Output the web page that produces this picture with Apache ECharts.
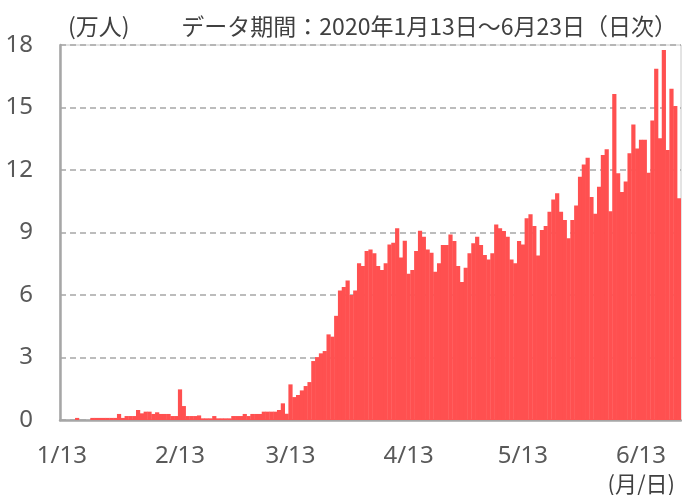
<!DOCTYPE html>
<html>
<head>
<meta charset="utf-8">
<script src="https://cdn.jsdelivr.net/npm/echarts@6/dist/echarts.min.js"></script>
<style>
  html, body { margin: 0; padding: 0; background: #fff; }
  #chart { width: 682px; height: 495px; }
</style>
</head>
<body>
<div id="chart"></div>
<script>
  // 期間：2020/1/13 ～ 2020/6/23（日次）
  const startDate = new Date(2020, 0, 13)
  const endDate = new Date(2020, 5, 23)
  const dates = []
  for (let d = new Date(startDate); d <= endDate; d.setDate(d.getDate() + 1)) {
    dates.push((d.getMonth() + 1) + '/' + d.getDate())
  }

  const tickLabels = ['1/13', '2/13', '3/13', '4/13', '5/13', '6/13']
  const yTicks = [0, 3, 6, 9, 12, 15, 18]

  // 万人
  const values = [
    0, 0, 0, 0, 0.1, 0, 0, 0, 0.1, 0.1,
    0.1, 0.1, 0.1, 0.1, 0.1, 0.29, 0.1, 0.19, 0.19, 0.19,
    0.48, 0.32, 0.4, 0.4, 0.29, 0.37, 0.29, 0.29, 0.29, 0.19,
    0.19, 1.47, 0.67, 0.19, 0.19, 0.19, 0.22, 0.08, 0.08, 0.08,
    0.19, 0.08, 0.08, 0.08, 0.08, 0.19, 0.19, 0.19, 0.29, 0.19,
    0.29, 0.29, 0.29, 0.4, 0.4, 0.4, 0.4, 0.48, 0.8, 0.3,
    1.71, 1.1, 1.2, 1.42, 1.63, 1.82, 2.83, 3.02, 3.2, 3.31,
    4.11, 4.0, 5.0, 6.22, 6.38, 6.7, 6.0, 6.22, 7.52, 7.39,
    8.11, 8.19, 8.0, 7.39, 7.2, 7.52, 8.43, 8.51, 9.2, 7.8,
    8.6, 7.02, 7.2, 8.11, 9.08, 8.8, 8.19, 8.03, 7.12, 7.52,
    8.4, 8.4, 8.91, 8.59, 7.39, 6.62, 7.31, 8.0, 8.48, 8.8,
    8.4, 7.92, 7.71, 8.0, 9.39, 9.2, 9.07, 8.8, 7.71, 7.52,
    8.59, 8.43, 9.68, 9.88, 9.31, 7.9, 9.12, 9.31, 10.0, 10.59,
    10.88, 10.0, 9.6, 8.72, 9.6, 10.3, 11.68, 12.27, 12.59, 10.7,
    9.9, 11.2, 12.72, 13.0, 10.02, 15.65, 11.85, 10.95, 11.45, 12.8,
    14.19, 13.03, 13.45, 13.45, 11.87, 14.38, 16.86, 13.52, 17.76, 12.96,
    15.9, 15.07, 10.65
  ]

  const textColor = '#595959'
  const lineColor = '#a6a6a6'
  const jpFont = '"Noto Sans CJK JP", sans-serif'

  const chart = echarts.init(document.getElementById('chart'))
  chart.setOption({
    animation: false,
    textStyle: { fontFamily: '"Noto Sans", "Noto Sans CJK JP", sans-serif' },
    title: [
      {
        text: '(万人)',
        left: 63,
        top: 10,
        textStyle: { color: '#404040', fontSize: 23, fontWeight: 'normal', fontFamily: jpFont }
      },
      {
        text: 'データ期間：2020年1月13日～6月23日（日次）',
        right: 0,
        top: 10,
        textStyle: { color: '#404040', fontSize: 23, fontWeight: 'normal', fontFamily: jpFont }
      },
      {
        text: '(月/日)',
        right: 2,
        top: 468,
        textStyle: { color: '#404040', fontSize: 22, fontWeight: 'normal', fontFamily: jpFont }
      }
    ],
    grid: {
      left: 60,
      right: 1,
      top: 45,
      bottom: 75,
      show: true,
      borderColor: '#c8c8c8',
      borderWidth: 1
    },
    xAxis: {
      type: 'category',
      data: dates,
      boundaryGap: true,
      axisTick: { show: false },
      axisLine: { lineStyle: { color: lineColor, width: 2.5 } },
      axisLabel: {
        color: textColor,
        fontSize: 24,
        margin: 24,
        interval: (idx, val) => tickLabels.indexOf(val) !== -1
      }
    },
    yAxis: {
      type: 'value',
      min: yTicks[0],
      max: yTicks[yTicks.length - 1],
      interval: 3,
      axisLine: { show: true, lineStyle: { color: lineColor, width: 2.5 } },
      axisTick: { show: false },
      axisLabel: { color: textColor, fontSize: 24, margin: 27 },
      splitLine: { lineStyle: { color: lineColor, type: [6, 4], width: 1.5 } }
    },
    series: [{
      type: 'bar',
      data: values,
      barWidth: 4.2,
      itemStyle: { color: '#ff5050' }
    }]
  })
</script>
</body>
</html>
